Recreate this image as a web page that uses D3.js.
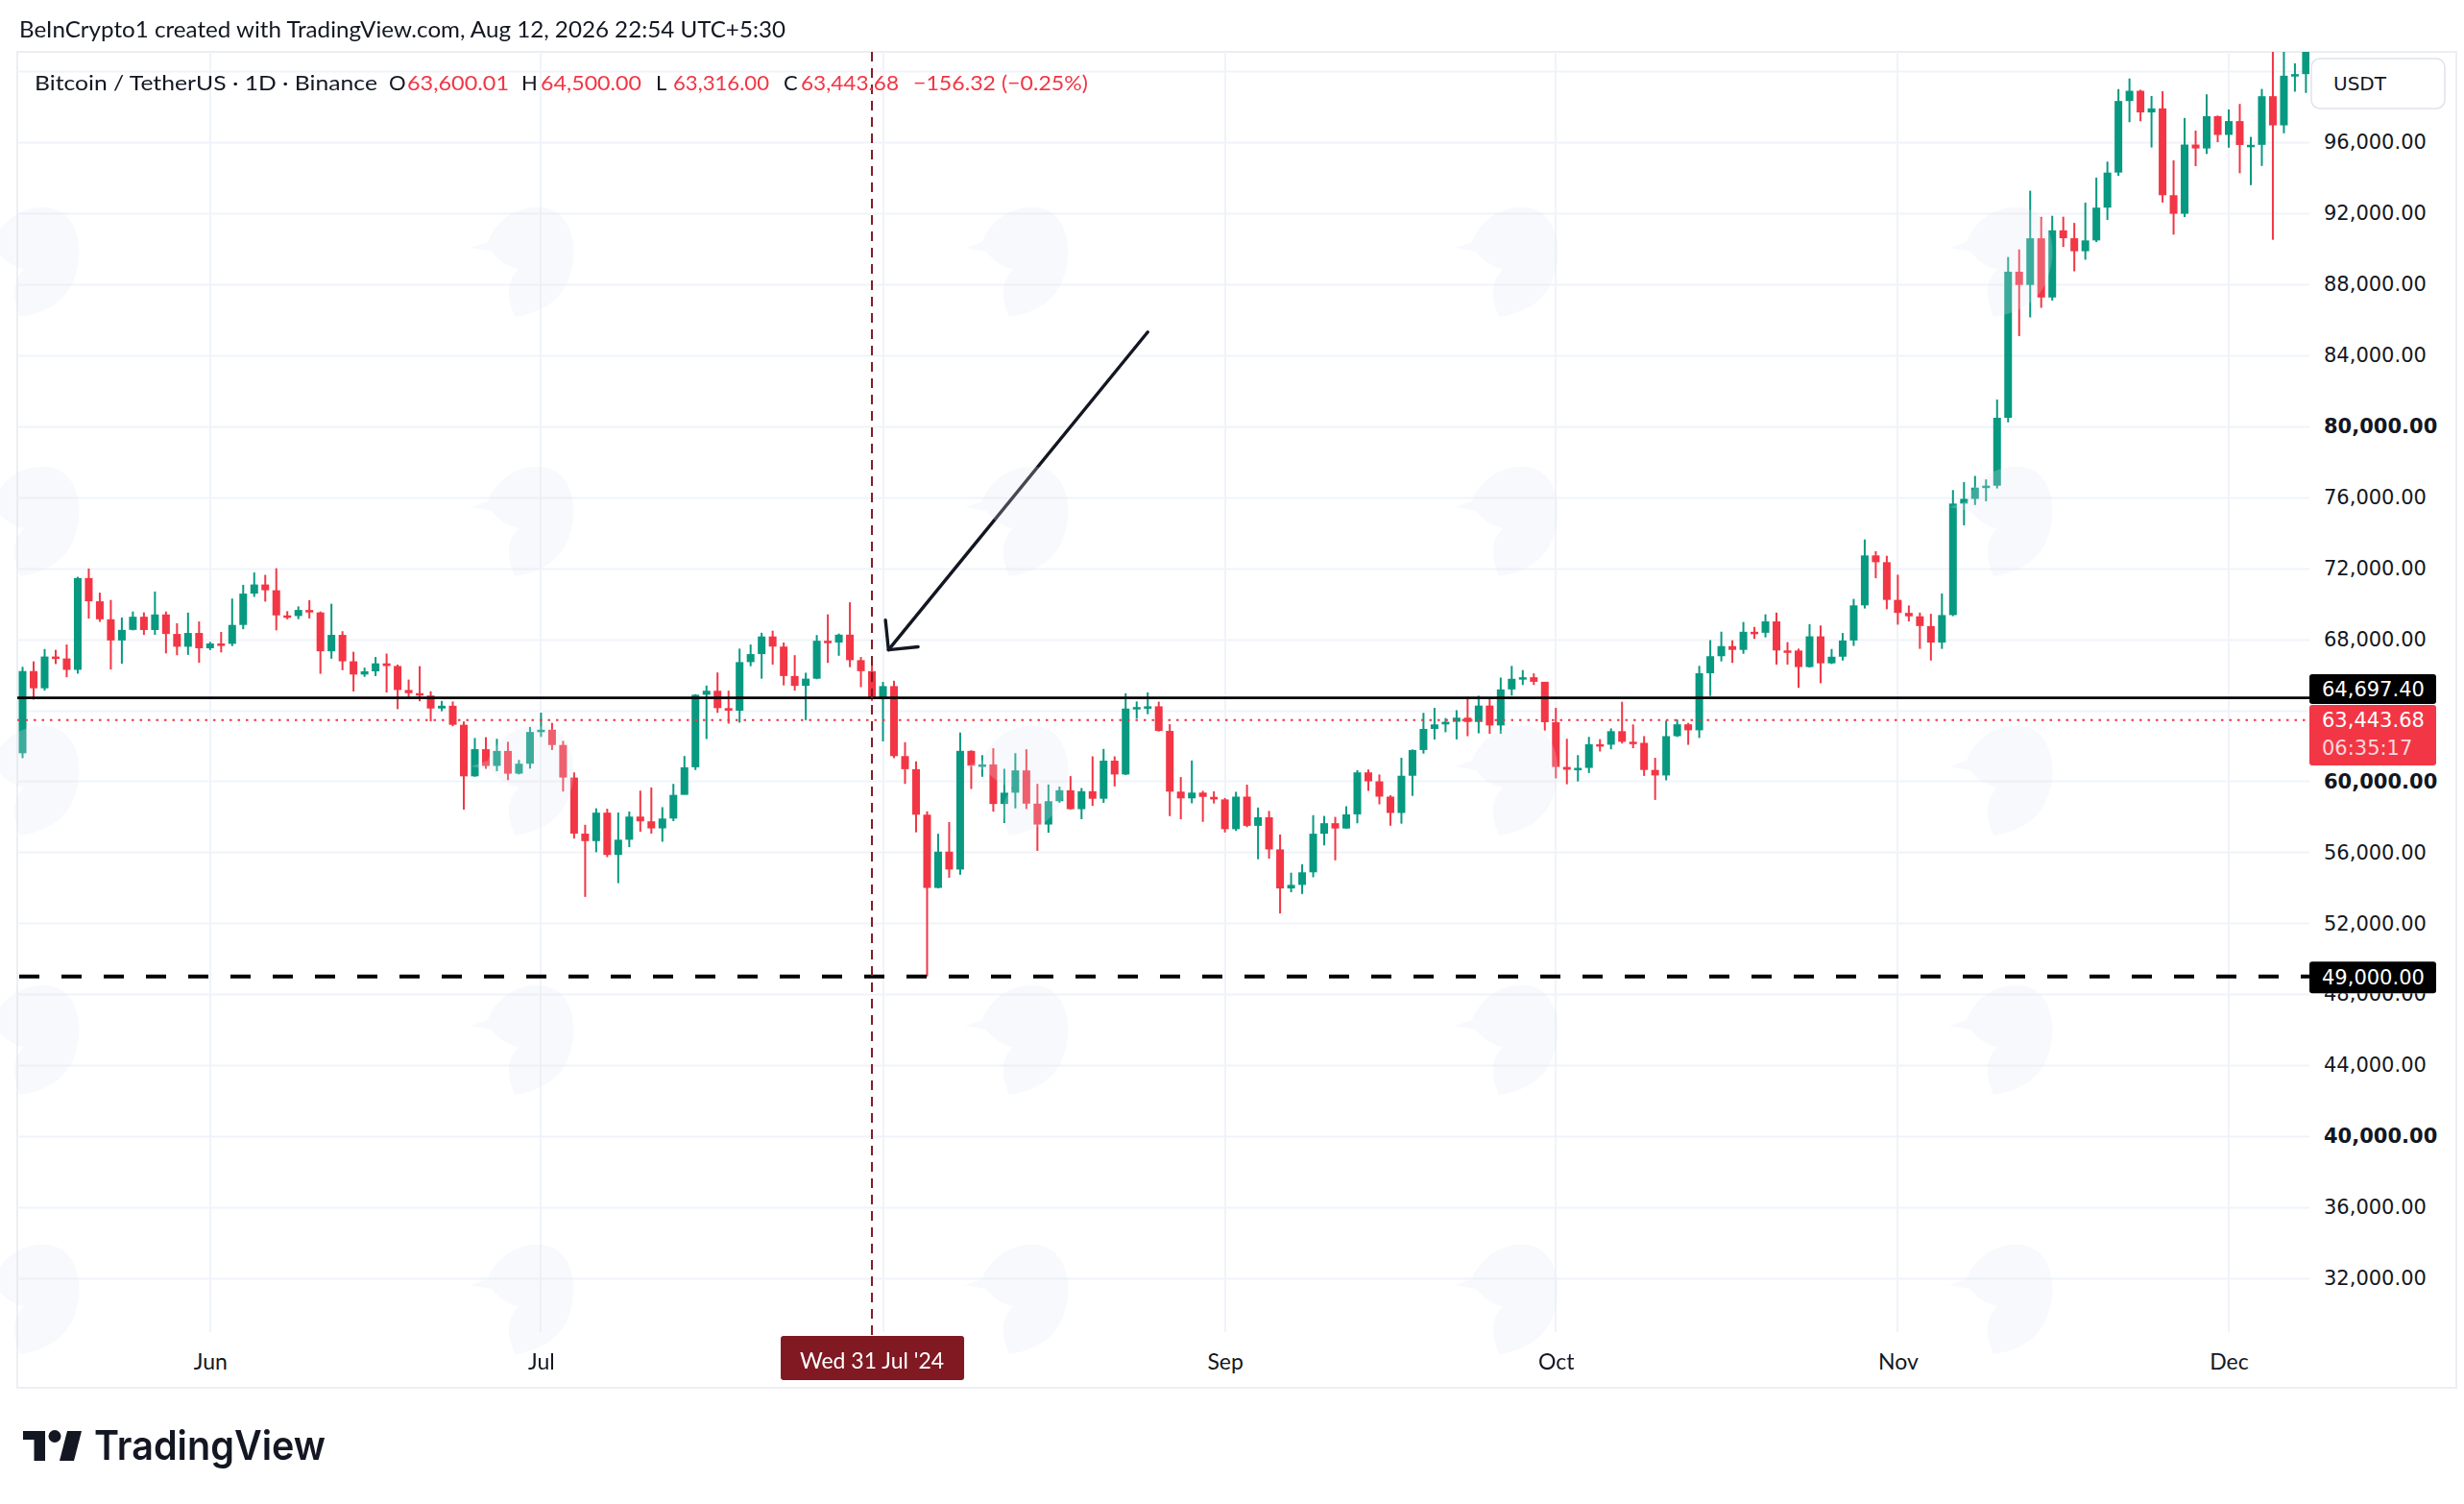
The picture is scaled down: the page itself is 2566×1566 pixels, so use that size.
<!DOCTYPE html>
<html>
<head>
<meta charset="utf-8">
<script src="https://cdn.jsdelivr.net/npm/d3@7"></script>
<style>
  body { margin: 0; background: #fff; }
  svg { display: block; }
</style>
</head>
<body>
<div id="chart"></div>
<script>
// BTC/USDT daily candles, 15 May 2024 -> 8 Dec 2024 (one value per day)
const firstDay = "2024-05-15";

const opens = [
  61577, 66206, 65235, 67024, 66915, 66274, 71446, 70136, 69122, 67929, 68526, 69265, 68518, 69394, 68296, 67578, 68352,
  67491, 67760, 67740, 68804, 70567, 71082, 70757, 69342, 69305, 69648, 69508, 67321, 68243, 66756, 66011, 66191, 66639, 66490, 65140, 64960, 64829, 64096, 64253, 63180, 60277, 61804, 60864, 61706, 60427, 60986,
  62772, 62900, 62041, 60208, 57050, 56628, 58230, 55849, 56705, 58009, 57742, 57344, 57899, 59231, 60787, 64870, 65097, 64118, 63974, 66710, 67163, 68154, 67585, 65928, 65372, 65777, 67912, 67813, 68255, 66819, 66201,
  64619, 65357, 61415, 60680, 58116, 53991, 56034, 55027, 61710, 60880, 60945, 58719, 59354, 60609, 58737, 57560, 58875, 59491, 58427, 59438, 59013, 61157, 60381, 64094, 64178, 64220, 62834, 59415, 59034, 59359, 59119,
  58974, 57301, 59132, 57487, 57971, 56160, 53962, 54160, 54869, 57042, 57635, 57338, 58132, 60498, 59993, 59132, 58213, 60309, 61759, 62947, 63201, 63348, 63579, 63339, 64262, 63143, 65173, 65769, 65858, 65602,
  63327, 60805, 60650, 60752, 62086, 62058, 62819, 62224, 62161, 60636, 60326, 62540, 63206, 62870, 66083, 67043, 67612, 67399, 68418, 68362, 69002, 67367, 67361, 66433, 68161, 66642, 67014, 67929, 69907, 72720, 72339,
  70215, 69482, 69290, 68742, 67811, 69359, 75640, 75905, 76538, 76649, 80474, 88701, 87955, 90585, 87250, 91032, 90587, 89855, 90464, 92311, 94286, 98317, 98892, 97673, 97900, 93010, 91965, 95863, 95644, 97460,
  96407, 97185, 95840, 95849, 98587, 96945, 99740, 99831
];

const highs = [
  66444, 66750, 67450, 67400, 67700, 71515, 71980, 70624, 70211, 69220, 69562, 69512, 70687, 69560, 68900, 69500, 69000,
  67850, 68409, 70288, 71063, 71758, 71625, 71997, 69582, 69850, 70195, 69563, 69999, 68449, 67294, 66400, 66999, 67190, 66570, 65727, 66482, 65066, 64525, 64491, 63369, 62435, 62480, 62390, 62225, 61200, 63058,
  63861, 63288, 62273, 60498, 57546, 58475, 58449, 58236, 58296, 59470, 59650, 58539, 59850, 61420, 64900, 65388, 66128, 65100, 67470, 67700, 68366, 68480, 67816, 67102, 66112, 68235, 69399, 68319, 70079, 66998, 66810,
  65593, 65659, 62198, 61117, 58305, 57040, 57700, 62745, 61744, 61470, 61858, 60699, 61578, 61800, 59849, 59816, 59700, 60289, 59618, 61400, 61820, 61400, 64955, 64494, 65000, 64481, 63213, 60234, 61166, 59459, 59432,
  59054, 59404, 59809, 58519, 58327, 57000, 54850, 55317, 58088, 58044, 57991, 58588, 60625, 60660, 60380, 59210, 61320, 61786, 63850, 64133, 63559, 64000, 64745, 64817, 64700, 65839, 66498, 66260, 66076, 65550,
  64130, 62390, 61470, 62498, 62370, 62975, 64478, 63200, 62543, 61320, 63417, 63480, 63285, 66500, 67950, 68424, 67939, 68969, 68694, 69400, 69500, 67836, 67470, 68850, 68775, 67450, 68350, 70270, 73620, 72961, 72700,
  71632, 69900, 69500, 69429, 70577, 76400, 76850, 77199, 76999, 81500, 89530, 89956, 93265, 91790, 91850, 91800, 91450, 92594, 94002, 94903, 98988, 99588, 98950, 98600, 98871, 94973, 97361, 96650, 98693, 97499,
  97836, 98150, 96297, 99000, 103900, 102039, 100439, 101399
];

const lows = [
  61300, 64600, 65106, 66600, 65858, 66060, 69162, 68977, 66300, 66622, 68500, 68240, 68250, 67200, 67100, 67118, 66670,
  67386, 67257, 67612, 68564, 70383, 70119, 68500, 69120, 69130, 69172, 66052, 66902, 66251, 65057, 65880, 65925, 65000, 64060, 64693, 64500, 63379, 63943, 63100, 58402, 60250, 60700, 60570, 60063, 60383, 60712,
  62497, 61758, 59419, 56771, 53485, 56000, 55724, 54260, 56289, 57157, 57050, 56590, 57756, 59784, 60632, 62378, 63854, 63246, 63300, 66478, 65777, 66570, 65400, 65100, 63442, 65746, 66666, 67066, 66428, 65302, 64526,
  62248, 61302, 59850, 57122, 49000, 53970, 54566, 54730, 59566, 60250, 58286, 57642, 58472, 58433, 56078, 57098, 58785, 58408, 57862, 58610, 58783, 59710, 60345, 63531, 63776, 62800, 58034, 57860, 58755, 57712, 58744,
  57115, 57200, 57415, 55606, 55643, 52550, 53745, 53650, 54591, 56386, 55545, 57324, 57632, 59455, 58696, 57493, 57610, 59175, 61555, 62350, 62758, 62357, 62538, 62700, 62670, 62670, 64820, 65420, 65420, 62856,
  60164, 59828, 59988, 60460, 61675, 61800, 62128, 61860, 60300, 58946, 60050, 62490, 62050, 62440, 64800, 66750, 66666, 67177, 68020, 68100, 66571, 66567, 65260, 66400, 65520, 66600, 66800, 67620, 69730, 71436, 69685,
  68820, 69000, 67458, 66800, 67457, 69298, 74416, 75560, 75773, 76493, 80216, 85072, 86127, 86668, 87073, 90094, 88722, 89376, 90371, 91619, 94100, 97122, 97175, 95700, 92600, 90791, 91778, 94650, 95334, 96000,
  95693, 94250, 93578, 94660, 90500, 96500, 98844, 98771
];

const closes = [
  66206, 65235, 67024, 66915, 66274, 71446, 70136, 69122, 67929, 68526, 69265, 68518, 69394, 68296, 67578, 68352, 67491,
  67760, 67740, 68804, 70567, 71082, 70757, 69342, 69305, 69648, 69508, 67321, 68243, 66756, 66011, 66191, 66639, 66490, 65140, 64960, 64829, 64096, 64253, 63180, 60277, 61804, 60864, 61706, 60427, 60986, 62772,
  62900, 62041, 60208, 57050, 56628, 58230, 55849, 56705, 58009, 57742, 57344, 57899, 59231, 60787, 64870, 65097, 64118, 63974, 66710, 67163, 68154, 67585, 65928, 65372, 65777, 67912, 67813, 68255, 66819, 66201, 64619,
  65357, 61415, 60680, 58116, 53991, 56034, 55027, 61710, 60880, 60945, 58719, 59354, 60609, 58737, 57560, 58875, 59491, 58427, 59438, 59013, 61157, 60381, 64094, 64178, 64220, 62834, 59415, 59034, 59359, 59119, 58974,
  57301, 59132, 57487, 57971, 56160, 53962, 54160, 54869, 57042, 57635, 57338, 58132, 60498, 59993, 59132, 58213, 60309, 61759, 62947, 63201, 63348, 63579, 63339, 64262, 63143, 65173, 65769, 65858, 65602, 63327,
  60805, 60650, 60752, 62086, 62058, 62819, 62224, 62161, 60636, 60326, 62540, 63206, 62870, 66083, 67043, 67612, 67399, 68418, 68362, 69002, 67367, 67361, 66433, 68161, 66642, 67014, 67929, 69907, 72720, 72339, 70215,
  69482, 69290, 68742, 67811, 69359, 75640, 75905, 76538, 76649, 80474, 88701, 87955, 90585, 87250, 91032, 90587, 89855, 90464, 92311, 94286, 98317, 98892, 97673, 97900, 93010, 91965, 95863, 95644, 97460, 96407,
  97185, 95840, 95849, 98587, 96945, 99740, 99831, 101109
];

// axis ticks (gridlines on all of them; labels hidden where a tag covers them in the picture)
const priceTicks = [32000, 36000, 40000, 44000, 48000, 52000, 56000, 60000, 64000, 68000, 72000, 76000, 80000, 84000, 88000, 92000, 96000, 100000];
const boldTicks = [40000, 60000, 80000, 100000];
const coveredPriceTicks = [64000, 100000];
const monthTicks = ["2024-06-01", "2024-07-01", "2024-08-01", "2024-09-01", "2024-10-01", "2024-11-01", "2024-12-01"];
const coveredMonthTicks = ["2024-08-01"];

// drawn levels and annotations
const supportLevel = 64697.40;
const lowLevel = 49000;
const lastPrice = 63443.68;
const countdown = "06:35:17";
const crosshairDay = "2024-07-31";
const crosshairLabel = "Wed 31 Jul '24";
const arrowTail = ["2024-08-25T00:00Z", 85300];
const arrowTip = ["2024-08-01T12:00Z", 67400];

const headerText = "BeInCrypto1 created with TradingView.com, Aug 12, 2026 22:54 UTC+5:30";
const legendParts = [
  { t: "Bitcoin / TetherUS \u00b7 1D \u00b7 Binance", x: 36, w: 357, red: false },
  { t: "O", x: 405, red: false }, { t: "63,600.01", x: 424, w: 106, red: true },
  { t: "H", x: 543, red: false }, { t: "64,500.00", x: 563, w: 105, red: true },
  { t: "L", x: 683, red: false }, { t: "63,316.00", x: 701, w: 100, red: true },
  { t: "C", x: 816, red: false }, { t: "63,443.68", x: 834, w: 102, red: true },
  { t: "\u2212156.32 (\u22120.25%)", x: 951, w: 182, red: true }
];

const W = 2566, H = 1566;
const plot = { left: 18, right: 2405, top: 54, bottom: 1387 };
const up = "#089981", down = "#F23645", ink = "#131722", grid = "#f0f3fa", cross = "#801922";
const axisFont = "DejaVu Sans, Verdana, sans-serif";
const uiFont = "Lato, 'Open Sans', sans-serif";

const parseDay = d3.utcParse("%Y-%m-%d");
const start = parseDay(firstDay);
const candles = closes.map((c, i) => ({
  date: d3.utcDay.offset(start, i),
  o: opens[i], h: highs[i], l: lows[i], c: c
}));

const x = d3.scaleUtc()
  .domain([parseDay("2024-06-01"), parseDay("2024-12-01")])
  .range([218.8, 2321]);
const y = d3.scaleLinear()
  .domain([32000, 96000])
  .range([1331, 148]);

const dayW = x(parseDay("2024-06-02")) - x(parseDay("2024-06-01"));
const bodyW = Math.round(dayW * 0.7);

const svg = d3.select("#chart").append("svg")
  .attr("width", W)
  .attr("height", H)
  .attr("viewBox", `0 0 ${W} ${H}`);

svg.append("rect").attr("width", W).attr("height", H).attr("fill", "#fff");

const defs = svg.append("defs");
defs.append("clipPath").attr("id", "plotClip")
  .append("rect")
  .attr("x", plot.left).attr("y", plot.top)
  .attr("width", plot.right - plot.left).attr("height", plot.bottom - plot.top);

// chart frame
svg.append("rect")
  .attr("x", plot.left).attr("y", plot.top)
  .attr("width", 2558 - plot.left).attr("height", 1445 - plot.top)
  .attr("fill", "none").attr("stroke", "#eceef2").attr("stroke-width", 2);

const pane = svg.append("g").attr("clip-path", "url(#plotClip)");

// grid
pane.append("g").selectAll("line").data(priceTicks).join("line")
  .attr("x1", plot.left).attr("x2", plot.right)
  .attr("y1", d => Math.round(y(d)) + 0.5).attr("y2", d => Math.round(y(d)) + 0.5)
  .attr("stroke", grid).attr("stroke-width", 2);

pane.append("g").selectAll("line").data(monthTicks).join("line")
  .attr("x1", d => Math.round(x(parseDay(d)))).attr("x2", d => Math.round(x(parseDay(d))))
  .attr("y1", plot.top).attr("y2", plot.bottom)
  .attr("stroke", grid).attr("stroke-width", 2);

// candles
const cg = pane.append("g");
cg.selectAll("line.wick").data(candles).join("line")
  .attr("class", "wick")
  .attr("x1", d => x(d.date)).attr("x2", d => x(d.date))
  .attr("y1", d => y(d.h)).attr("y2", d => y(d.l))
  .attr("stroke", d => d.c >= d.o ? up : down)
  .attr("stroke-width", 2);

cg.selectAll("rect.body").data(candles).join("rect")
  .attr("class", "body")
  .attr("x", d => x(d.date) - bodyW / 2)
  .attr("width", bodyW)
  .attr("y", d => y(Math.max(d.o, d.c)))
  .attr("height", d => Math.max(2.5, Math.abs(y(d.o) - y(d.c))))
  .attr("fill", d => d.c >= d.o ? up : down);

// last price (dotted red)
pane.append("line")
  .attr("x1", plot.left).attr("x2", plot.right)
  .attr("y1", y(lastPrice)).attr("y2", y(lastPrice))
  .attr("stroke", down).attr("stroke-width", 2).attr("stroke-dasharray", "2.5,6");

// support line (solid black)
pane.append("line")
  .attr("x1", plot.left).attr("x2", plot.right)
  .attr("y1", y(supportLevel)).attr("y2", y(supportLevel))
  .attr("stroke", "#000").attr("stroke-width", 2.6);

// low level (dashed black)
pane.append("line")
  .attr("x1", plot.left + 2).attr("x2", plot.right)
  .attr("y1", y(lowLevel)).attr("y2", y(lowLevel))
  .attr("stroke", "#000").attr("stroke-width", 4).attr("stroke-dasharray", "21,23");

// crosshair
const cx = x(parseDay(crosshairDay));
svg.append("line")
  .attr("x1", cx).attr("x2", cx)
  .attr("y1", plot.top).attr("y2", 1392)
  .attr("stroke", cross).attr("stroke-width", 2).attr("stroke-dasharray", "10,7");

// arrow annotation
const tail = [x(new Date(arrowTail[0])), y(arrowTail[1])];
const tip = [x(new Date(arrowTip[0])), y(arrowTip[1])];
const ang = Math.atan2(tail[1] - tip[1], tail[0] - tip[0]);
const headLen = 31, spread = Math.PI / 4;
const arm = a => [tip[0] + headLen * Math.cos(a), tip[1] + headLen * Math.sin(a)];
svg.append("line")
  .attr("x1", tail[0]).attr("y1", tail[1]).attr("x2", tip[0]).attr("y2", tip[1])
  .attr("stroke", ink).attr("stroke-width", 3.4).attr("stroke-linecap", "round");
svg.append("path")
  .attr("d", d3.line()([arm(ang - spread), tip, arm(ang + spread)]))
  .attr("fill", "none").attr("stroke", ink).attr("stroke-width", 3.4)
  .attr("stroke-linecap", "round").attr("stroke-linejoin", "round");

// very faint watermark heads laid over the pane
const wmCols = [33, 548, 1063, 1573, 2088];
const wmRows = [270, 540, 810, 1080, 1350, 1620];
const wm = svg.append("g").attr("opacity", 0.24).attr("fill", "#dfe6f3");
wmRows.forEach(r => wmCols.forEach(c => {
  wm.append("path")
    .attr("transform", `translate(${c},${r})`)
    .attr("d", "M-40,-18 C-30,-45 0,-60 25,-52 C48,-44 55,-10 45,18 C38,40 20,55 -12,60 C-20,40 -22,25 -8,10 C-20,8 -30,0 -36,-8 L-58,-12 Z");
}));

// price axis
const yAxis = d3.axisRight(y)
  .tickValues(priceTicks.filter(d => !coveredPriceTicks.includes(d)))
  .tickSize(0)
  .tickPadding(15)
  .tickFormat(d3.format(",.2f"));
const yg = svg.append("g")
  .attr("transform", `translate(${plot.right},0)`)
  .call(yAxis);
yg.select(".domain").remove();
yg.selectAll("text")
  .attr("font-family", axisFont)
  .attr("font-size", 21)
  .attr("fill", ink)
  .attr("font-weight", d => boldTicks.includes(d) ? "bold" : "normal");

// the 48,000 label only peeks out under the 49,000 tag
const lowTagBottom = y(lowLevel) + 1 + 16.5;
defs.append("clipPath").attr("id", "belowLowTag")
  .append("rect").attr("x", 0).attr("y", lowTagBottom).attr("width", 160).attr("height", 40);
yg.selectAll(".tick").filter(d => d === 48000)
  .attr("transform", null)
  .attr("clip-path", "url(#belowLowTag)")
  .select("text").attr("y", y(48000));

// USDT box
svg.append("rect")
  .attr("x", 2407).attr("y", 61).attr("width", 139).attr("height", 52).attr("rx", 9)
  .attr("fill", "#fff").attr("stroke", "#e0e3eb").attr("stroke-width", 1.5);
svg.append("text").attr("x", 2430).attr("y", 87).attr("dominant-baseline", "central")
  .attr("font-family", axisFont).attr("font-size", 20).attr("fill", ink)
  .text("USDT");

const fmt = d3.format(",.2f");
function priceTag(yc, h, fill) {
  svg.append("rect")
    .attr("x", plot.right).attr("y", yc - h / 2).attr("width", 132).attr("height", h)
    .attr("rx", 3).attr("fill", fill);
}
function tagText(yc, txt, col) {
  svg.append("text").attr("x", 2418).attr("y", yc).attr("dominant-baseline", "central")
    .attr("font-family", axisFont).attr("font-size", 21)
    .attr("fill", col).text(txt);
}
// support tag sits just above the last price tag
priceTag(717.5, 31, "#000");
tagText(718, fmt(supportLevel), "#fff");
// last price + countdown
svg.append("rect")
  .attr("x", plot.right).attr("y", 734).attr("width", 132).attr("height", 63)
  .attr("rx", 3).attr("fill", down);
tagText(y(lastPrice), fmt(lastPrice), "#fff");
tagText(y(lastPrice) + 29, countdown, "#fcd7db");
// low level tag
priceTag(y(lowLevel) + 1, 33, "#000");
tagText(y(lowLevel) + 1, fmt(lowLevel), "#fff");

// time axis
const xAxis = d3.axisBottom(x)
  .tickValues(monthTicks.filter(d => !coveredMonthTicks.includes(d)).map(parseDay))
  .tickSize(0)
  .tickPadding(0)
  .tickFormat(d3.utcFormat("%b"));
const xg = svg.append("g")
  .attr("transform", `translate(0,${plot.bottom})`)
  .call(xAxis);
xg.select(".domain").remove();
xg.selectAll("text")
  .attr("y", 30).attr("dy", null).attr("dominant-baseline", "central")
  .attr("font-family", uiFont)
  .attr("font-size", 23)
  .attr("fill", ink);

// crosshair date label
svg.append("rect")
  .attr("x", cx - 95).attr("y", 1391).attr("width", 191).attr("height", 46)
  .attr("rx", 3).attr("fill", cross);
svg.append("text")
  .attr("x", cx).attr("y", 1416).attr("text-anchor", "middle").attr("dominant-baseline", "central")
  .attr("font-family", uiFont).attr("font-size", 23).attr("fill", "#fff")
  .text(crosshairLabel);

// header
svg.append("text")
  .attr("x", 20).attr("y", 30).attr("dominant-baseline", "central")
  .attr("font-family", uiFont).attr("font-size", 23).attr("fill", ink)
  .attr("textLength", 798).attr("lengthAdjust", "spacingAndGlyphs")
  .text(headerText);

// legend
const lg = svg.append("g");
legendParts.forEach(p => {
  const t = lg.append("text")
    .attr("x", p.x).attr("y", 85).attr("dominant-baseline", "central")
    .attr("font-family", uiFont).attr("font-size", 22)
    .attr("fill", p.red ? down : ink)
    .text(p.t);
  if (p.w) t.attr("textLength", p.w).attr("lengthAdjust", "spacingAndGlyphs");
});

// TradingView logo
const logo = svg.append("g").attr("fill", ink);
logo.append("path").attr("d", "M24,1490 H47 V1521 H35.5 V1499 H24 Z");
logo.append("circle").attr("cx", 57).attr("cy", 1495.5).attr("r", 6.5);
logo.append("path").attr("d", "M70,1490 H85 L77,1521 H62 Z");
logo.append("text")
  .attr("x", 98).attr("y", 1520)
  .attr("font-family", "Inter, Roboto, sans-serif").attr("font-weight", 600).attr("font-size", 42)
  .attr("textLength", 241).attr("lengthAdjust", "spacingAndGlyphs")
  .text("TradingView");
</script>
</body>
</html>
